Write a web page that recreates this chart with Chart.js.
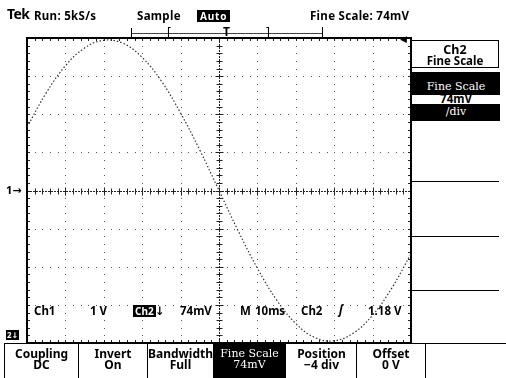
<!DOCTYPE html>
<html>
<head>
<meta charset="utf-8">
<script src="https://cdn.jsdelivr.net/npm/chart.js@4/dist/chart.umd.min.js"></script>
<style>
  html,body{margin:0;padding:0;background:#fff;}
  #wrap{position:relative;width:506px;height:378px;overflow:hidden;background:#fff;
        font-family:"Noto Sans","DejaVu Sans",sans-serif;font-weight:bold;color:#000;}
  #c{position:absolute;left:0;top:0;}
  .t{position:absolute;white-space:nowrap;font-size:11.5px;line-height:12px;}
  .inv{background:#000;color:#fff;padding:0 2px;}
  .hl{position:absolute;background:#000;height:1px;}
  .vl{position:absolute;background:#000;width:1px;}
  .btn{position:absolute;top:344px;height:34px;text-align:center;font-size:12px;line-height:11px;padding-top:4px;box-sizing:border-box;}
</style>
</head>
<body>
<div id="wrap">
<canvas id="c" width="506" height="378"></canvas>

<!-- top status line -->
<div class="t" style="left:7px;top:8px;font-size:14px;letter-spacing:-0.6px">Tek</div>
<div class="t" style="left:34px;top:10px;letter-spacing:0.3px">Run: 5kS/s</div>
<div class="t" style="left:137px;top:10px;letter-spacing:0.3px">Sample</div>
<div class="t inv" style="left:197px;top:10px;font-size:10px;letter-spacing:0.8px;padding:0 3px">Auto</div>
<div class="t" style="left:310px;top:10px;letter-spacing:0.3px">Fine Scale: 74mV</div>

<!-- record / trigger position bar -->
<div class="hl" style="left:131px;top:33px;width:191px;background:#444"></div>
<div class="vl" style="left:131px;top:28px;height:10px"></div>
<div class="vl" style="left:322px;top:27px;height:10px"></div>
<div class="t" style="left:167px;top:26px;font-size:12px;font-weight:normal">[</div>
<div class="t" style="left:266px;top:26px;font-size:12px;font-weight:normal">]</div>
<div class="t" style="left:223px;top:26px;font-size:12px">T</div>

<!-- trigger level arrow -->
<div class="t" style="left:400px;top:33px;font-size:9px">&#9664;</div>

<!-- ch markers -->
<div class="t" style="left:6px;top:184px;font-size:11px">1&#8594;</div>
<div class="t inv" style="left:6px;top:330px;font-size:8px;line-height:10px;padding:0 1px">2&#8595;</div>

<!-- readout line -->
<div class="t" style="left:34px;top:305px">Ch1</div>
<div class="t" style="left:90px;top:305px">1 V</div>
<div class="t inv" style="left:133px;top:305px;font-size:10px">Ch2</div>
<div class="t" style="left:155px;top:305px">&#8595;</div>
<div class="t" style="left:180px;top:305px">74mV</div>
<div class="t" style="left:240px;top:305px">M</div>
<div class="t" style="left:255px;top:305px">10ms</div>
<div class="t" style="left:301px;top:305px">Ch2</div>
<div class="t" style="left:339px;top:304px;font-style:italic;font-size:12px">&#643;</div>
<div class="t" style="left:368px;top:305px">1.18 V</div>

<!-- right menu -->
<div style="position:absolute;left:412px;top:40px;width:87px;height:28px;border:1px solid #000;border-left:none;text-align:center;font-size:12.5px;line-height:11px;padding-top:3px;box-sizing:border-box;">Ch2<br><span style="font-size:11.5px">Fine Scale</span></div>
<div style="position:absolute;left:412px;top:72px;width:88px;height:49px;background:#000;"></div>
<div class="t" style="left:412px;top:81px;width:88px;text-align:center;color:#fff;font-weight:normal;font-family:'DejaVu Serif',serif;font-size:11px">Fine Scale</div>
<div style="position:absolute;left:412px;top:95px;width:88px;height:9px;background:#fff;"></div>
<div class="t" style="left:412px;top:93px;width:88px;text-align:center;font-size:11.5px">74mV</div>
<div class="t" style="left:412px;top:106px;width:88px;text-align:center;color:#fff;font-weight:normal;font-family:'DejaVu Serif',serif;font-size:11px">/div</div>
<div class="hl" style="left:412px;top:181px;width:87px"></div>
<div class="hl" style="left:412px;top:236px;width:87px"></div>
<div class="hl" style="left:412px;top:290px;width:87px"></div>

<!-- bottom menu -->
<div class="hl" style="left:4px;top:343px;width:502px"></div>
<div class="vl" style="left:4px;top:343px;height:35px"></div>
<div class="btn" style="left:5px;width:73px">Coupling<br>DC</div>
<div class="vl" style="left:78px;top:343px;height:35px"></div>
<div class="btn" style="left:79px;width:68px">Invert<br>On</div>
<div class="vl" style="left:147px;top:343px;height:35px"></div>
<div class="btn" style="left:148px;width:65px">Bandwidth<br>Full</div>
<div class="btn" style="left:213px;width:73px;background:#000;color:#fff;font-weight:normal;font-family:'DejaVu Serif',serif;font-size:11px">Fine Scale<br>74mV</div>
<div class="btn" style="left:287px;width:69px">Position<br>&#8722;4 div</div>
<div class="vl" style="left:356px;top:343px;height:35px"></div>
<div class="btn" style="left:357px;width:68px">Offset<br>0 V</div>
<div class="vl" style="left:425px;top:343px;height:35px"></div>
</div>

<script>
// ---- data (time in ms, 10 ms/div; Ch2 in divisions) ----
const timeMs = [0, 5, 10, 15, 20, 25, 30, 35, 40, 45, 50, 55, 60, 65, 70, 75, 80, 85, 90, 95, 100];
const ch2Div = [1.66, 2.56, 3.27, 3.74, 3.94, 3.86, 3.49, 2.87, 2.03, 1.06, 0.0,
                -1.06, -2.04, -2.87, -3.49, -3.86, -3.94, -3.74, -3.27, -2.56, -1.66];
const xDivisions = 10;
const yDivisions = 8;

const points = timeMs.map((t, i) => ({x: t, y: ch2Div[i]}));

const graticule = {
  id: 'graticule',
  beforeDatasetsDraw(chart) {
    const {ctx, chartArea: a, scales: {x, y}} = chart;
    ctx.save();
    const xs = (x.max - x.min) / xDivisions;
    const ys = (y.max - y.min) / yDivisions;
    ctx.fillStyle = '#555';
    for (let i = 1; i < xDivisions; i++) {
      if (i === xDivisions / 2) continue;
      const px = Math.round(x.getPixelForValue(x.min + i * xs));
      for (let j = 0; j <= yDivisions * 5; j++) {
        const py = Math.round(y.getPixelForValue(y.min + j * ys / 5));
        ctx.fillRect(px, py, 1, 1);
      }
    }
    for (let j = 1; j < yDivisions; j++) {
      if (j === yDivisions / 2) continue;
      const py = Math.round(y.getPixelForValue(y.min + j * ys));
      for (let i = 0; i <= xDivisions * 5; i++) {
        const px = Math.round(x.getPixelForValue(x.min + i * xs / 5));
        ctx.fillRect(px, py, 1, 1);
      }
    }
    const cx = Math.round(x.getPixelForValue((x.min + x.max) / 2)) + 0.5;
    const cy = Math.round(y.getPixelForValue((y.min + y.max) / 2)) + 0.5;
    ctx.strokeStyle = '#222';
    ctx.lineWidth = 1;
    ctx.setLineDash([2, 1]);
    ctx.beginPath();
    ctx.moveTo(cx, a.top); ctx.lineTo(cx, a.bottom);
    ctx.moveTo(a.left, cy); ctx.lineTo(a.right, cy);
    ctx.stroke();
    ctx.setLineDash([]);
    ctx.beginPath();
    for (let j = 1; j < yDivisions * 5; j++) {
      const py = Math.round(y.getPixelForValue(y.min + j * ys / 5)) + 0.5;
      const len = (j % 5 === 0) ? 4 : 3;
      ctx.moveTo(cx - len, py); ctx.lineTo(cx + len, py);
      ctx.moveTo(a.left, py); ctx.lineTo(a.left + 3, py);
      ctx.moveTo(a.right, py); ctx.lineTo(a.right - 3, py);
    }
    for (let i = 1; i < xDivisions * 5; i++) {
      const px = Math.round(x.getPixelForValue(x.min + i * xs / 5)) + 0.5;
      const len = (i % 5 === 0) ? 4 : 3;
      ctx.moveTo(px, cy - len); ctx.lineTo(px, cy + len);
      ctx.moveTo(px, a.top); ctx.lineTo(px, a.top + 3);
      ctx.moveTo(px, a.bottom); ctx.lineTo(px, a.bottom - 3);
    }
    ctx.stroke();
    ctx.lineWidth = 2;
    ctx.strokeStyle = '#000';
    ctx.strokeRect(a.left, a.top, a.right - a.left, a.bottom - a.top);
    ctx.restore();
  }
};

new Chart(document.getElementById('c'), {
  type: 'scatter',
  data: {
    datasets: [{
      label: 'Ch2',
      data: points,
      showLine: true,
      tension: 0.4,
      borderColor: '#333',
      borderWidth: 1.2,
      borderDash: [1.5, 2],
      pointRadius: 0,
      fill: false
    }]
  },
  options: {
    responsive: false,
    animation: false,
    devicePixelRatio: 1,
    layout: {padding: {left: 27, top: 38, right: 95, bottom: 35}},
    plugins: {legend: {display: false}, tooltip: {enabled: false}, title: {display: false}},
    scales: {
      x: {type: 'linear', min: 0, max: 100, display: false},
      y: {type: 'linear', min: -4, max: 4, display: false}
    }
  },
  plugins: [graticule]
});
</script>
</body>
</html>
